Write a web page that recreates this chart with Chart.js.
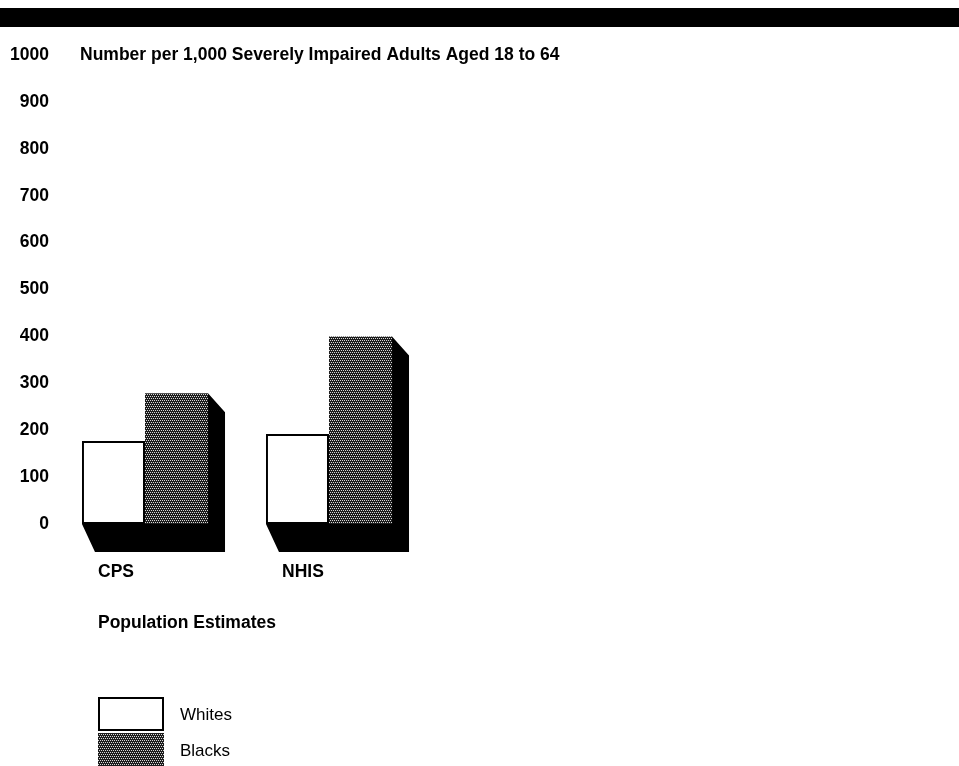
<!DOCTYPE html>
<html>
<head>
<meta charset="utf-8">
<script src="https://cdn.jsdelivr.net/npm/chart.js@4.4.1/dist/chart.umd.min.js"></script>
<style>
  body { margin: 0; background: #fff; }
</style>
</head>
<body>
<canvas id="myChart" width="959" height="766"></canvas>
<script>
var categories = ["CPS", "NHIS"];
var whites = [177, 192];
var blacks = [279, 400];
var yTicks = [0, 100, 200, 300, 400, 500, 600, 700, 800, 900, 1000];
var chartTitle = "Number per 1,000 Severely Impaired Adults Aged 18 to 64";
var axisTitle = "Population Estimates";

var fontFamily = "'Liberation Sans', Arial, Helvetica, sans-serif";

// stippled fill for the Blacks bars
function makeStipple() {
	var c = document.createElement("canvas");
	c.width = 4;
	c.height = 4;
	var g = c.getContext("2d");
	g.fillStyle = "#1c1c1c";
	g.fillRect(0, 0, 4, 4);
	g.fillStyle = "#d8d8d8";
	g.fillRect(0, 0, 1, 1);
	g.fillRect(2, 0, 1, 1);
	g.fillRect(1, 2, 1, 1);
	g.fillRect(3, 2, 1, 1);
	return g.createPattern(c, "repeat");
}

var chartContext = document.getElementById("myChart").getContext("2d");
var stipple = makeStipple();

// black floor + side face behind each pair of bars
var extrude = {
	id: "extrude",
	beforeDatasetsDraw: function(chart) {
		var ctx = chart.ctx;
		var m0 = chart.getDatasetMeta(0).data;
		var m1 = chart.getDatasetMeta(1).data;
		ctx.save();
		ctx.fillStyle = "#000";
		for (var i = 0; i < m0.length; i++) {
			var left = m0[i].x - m0[i].width / 2;
			var right = m1[i].x + m1[i].width / 2;
			var top = m1[i].y;
			var base = m0[i].base;
			ctx.beginPath();
			ctx.moveTo(left, base);
			ctx.lineTo(left + 13, base + 28);
			ctx.lineTo(right + 17, base + 28);
			ctx.lineTo(right + 17, top + 19);
			ctx.lineTo(right, top);
			ctx.lineTo(right, base);
			ctx.closePath();
			ctx.fill();
		}
		ctx.restore();
	}
};

// header band, titles and the legend
var decorations = {
	id: "decorations",
	beforeDraw: function(chart) {
		var ctx = chart.ctx;
		ctx.save();
		ctx.fillStyle = "#000";
		ctx.fillRect(0, 8, chart.width, 19);
		ctx.restore();
	},
	afterDraw: function(chart) {
		var ctx = chart.ctx;
		var area = chart.chartArea;
		ctx.save();
		ctx.fillStyle = "#000";
		ctx.textBaseline = "middle";
		ctx.textAlign = "left";
		ctx.font = "bold 17.5px " + fontFamily;
		ctx.fillText(chartTitle, 80, area.top);
		ctx.fillText(axisTitle, 98, 623);

		var ds = chart.data.datasets;
		var boxY = [697, 733];
		ctx.font = "17px " + fontFamily;
		for (var i = 0; i < ds.length; i++) {
			ctx.fillStyle = ds[i].backgroundColor;
			ctx.fillRect(98, boxY[i], 66, 34);
			if (ds[i].borderWidth) {
				ctx.strokeStyle = "#000";
				ctx.lineWidth = 2;
				ctx.strokeRect(99, boxY[i] + 1, 64, 32);
			}
			ctx.fillStyle = "#000";
			ctx.fillText(ds[i].label, 180, boxY[i] + 18);
		}
		ctx.restore();
	}
};

var chart = new Chart(chartContext, {
	type: "bar",
	data: {
		labels: categories,
		datasets: [{
			label: "Whites",
			data: whites,
			backgroundColor: "#fff",
			borderColor: "#000",
			borderWidth: 2,
			borderSkipped: false
		}, {
			label: "Blacks",
			data: blacks,
			backgroundColor: stipple,
			borderWidth: 0
		}]
	},
	options: {
		responsive: false,
		animation: false,
		events: [],
		layout: { padding: { left: 8, right: 538, top: 55, bottom: 0 } },
		datasets: {
			bar: { categoryPercentage: 0.685, barPercentage: 1.0 }
		},
		plugins: {
			legend: { display: false },
			tooltip: { enabled: false }
		},
		scales: {
			x: {
				grid: { display: false, drawTicks: false },
				border: { display: false },
				afterFit: function(s) { s.height = 242; },
				ticks: {
					align: "start",
					labelOffset: -47,
					padding: 38,
					color: "#000",
					font: { family: fontFamily, size: 17.5, weight: "bold" }
				}
			},
			y: {
				min: 0,
				max: 1000,
				grid: { display: false, drawTicks: false },
				border: { display: false },
				afterFit: function(s) { s.width = 45; },
				afterBuildTicks: function(s) {
					s.ticks = yTicks.map(function(v) { return { value: v }; });
				},
				ticks: {
					padding: 4,
					color: "#000",
					// plain numbers, no thousands separator
					callback: function(v) { return String(v); },
					font: { family: fontFamily, size: 17.5, weight: "bold" }
				}
			}
		}
	},
	plugins: [extrude, decorations]
});
</script>
</body>
</html>
